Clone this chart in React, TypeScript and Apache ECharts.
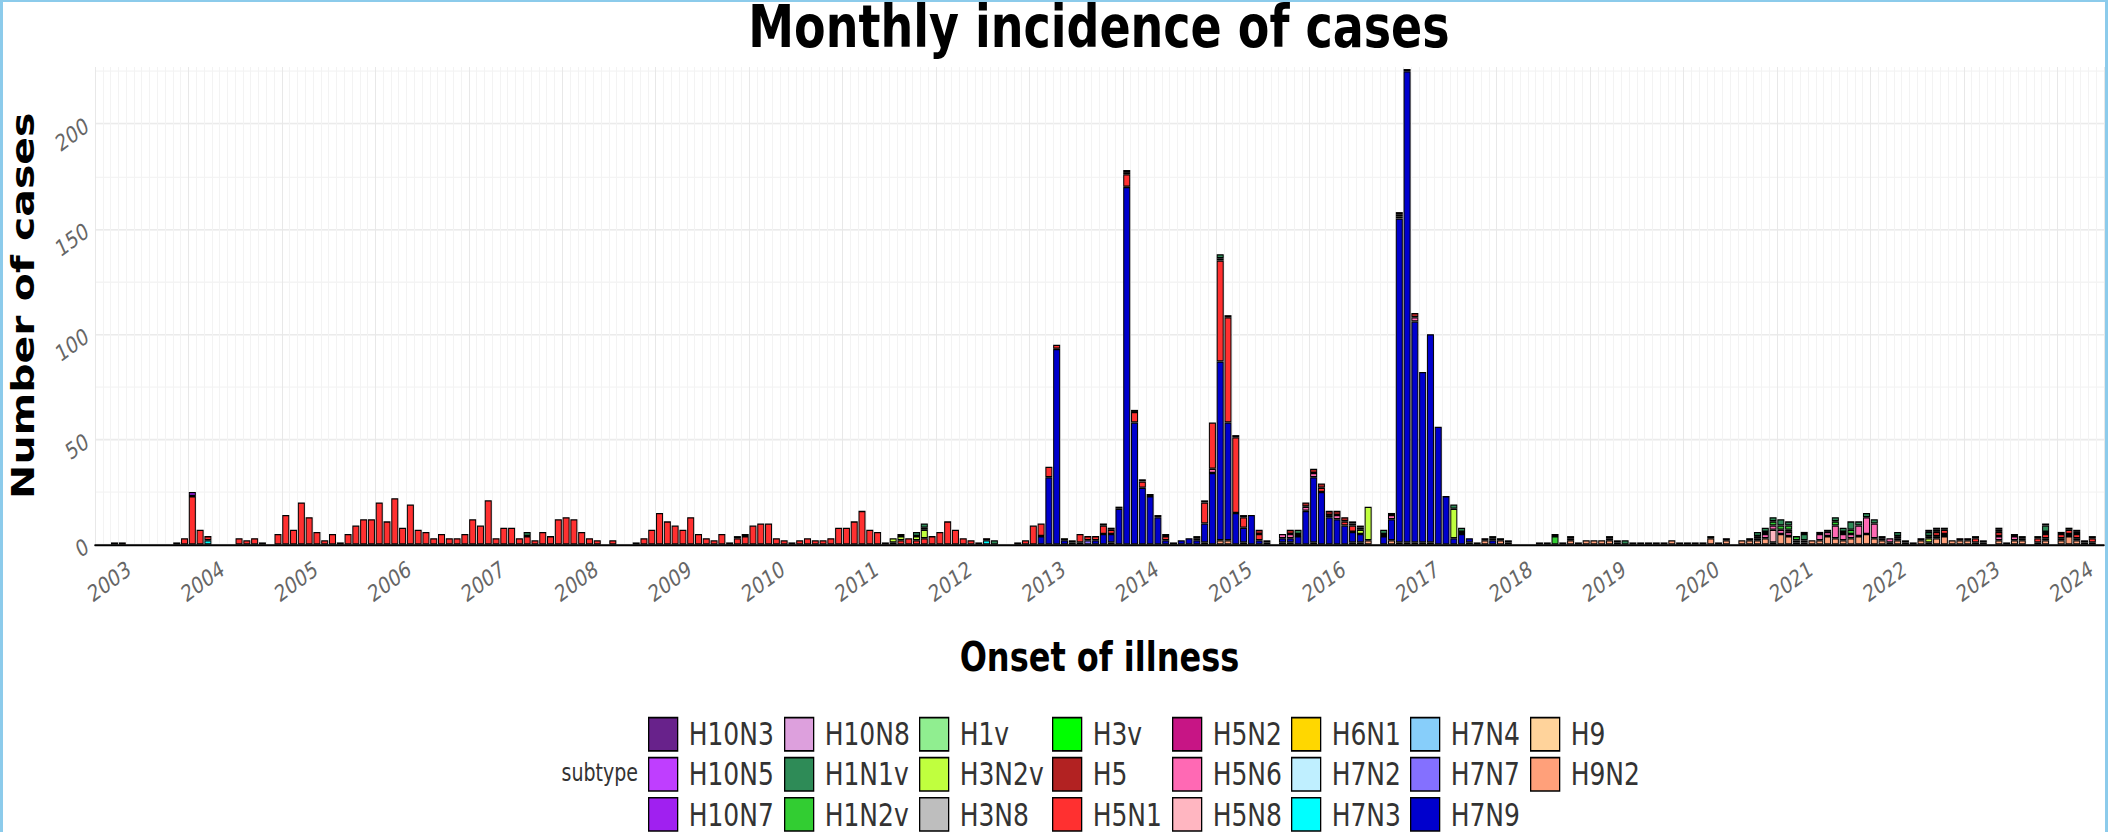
import React, { useEffect, useRef } from "react";
import * as echarts from "echarts";

type Entry = [string, number];

// ---------- categories ----------
const FIRST_YEAR = 2003;
const MONTH_COUNT = 258; // 2003-01 .. 2024-06
const MONTHS: string[] = Array.from({ length: MONTH_COUNT }, (_, i) =>
  `${FIRST_YEAR + Math.floor(i / 12)}-${String((i % 12) + 1).padStart(2, "0")}`
);

const SUBTYPES = [
  "H10N3", "H10N5", "H10N7", "H10N8", "H1N1v", "H1N2v", "H1v", "H3N2v", "H3N8", "H3v", "H5", "H5N1",
  "H5N2", "H5N6", "H5N8", "H6N1", "H7N2", "H7N3", "H7N4", "H7N7", "H7N9", "H9", "H9N2",
];

const COLORS: Record<string, string> = {
  H10N3: "#68228b", H10N5: "#bf3eff", H10N7: "#a020f0", H10N8: "#dda0dd", H1N1v: "#2e8b57",
  H1N2v: "#32cd32", H1v: "#90ee90", H3N2v: "#c0ff3e", H3N8: "#bebebe", H3v: "#00ff00",
  H5: "#b22222", H5N1: "#ff3030", H5N2: "#c71585", H5N6: "#ff69b4", H5N8: "#ffb6c1",
  H6N1: "#ffd700", H7N2: "#bfefff", H7N3: "#00ffff", H7N4: "#87cefa", H7N7: "#8470ff",
  H7N9: "#0000cd", H9: "#ffd39b", H9N2: "#ffa07a",
};

// ---------- monthly case counts (onset month, count) ----------
const H5N1: Entry[] = [
  ["2003-03", 1], ["2003-04", 1], ["2003-12", 3],
  ["2004-01", 23], ["2004-02", 7], ["2004-03", 2], ["2004-07", 3], ["2004-08", 2], ["2004-09", 3], ["2004-10", 1], ["2004-12", 5],
  ["2005-01", 14], ["2005-02", 7], ["2005-03", 20], ["2005-04", 13], ["2005-05", 6], ["2005-06", 2], ["2005-07", 5], ["2005-08", 1], ["2005-09", 5], ["2005-10", 9], ["2005-11", 12], ["2005-12", 12],
  ["2006-01", 20], ["2006-02", 11], ["2006-03", 22], ["2006-04", 8], ["2006-05", 19], ["2006-06", 7], ["2006-07", 6], ["2006-08", 3], ["2006-09", 5], ["2006-10", 3], ["2006-11", 3], ["2006-12", 5],
  ["2007-01", 12], ["2007-02", 9], ["2007-03", 21], ["2007-04", 3], ["2007-05", 8], ["2007-06", 8], ["2007-07", 3], ["2007-08", 4], ["2007-09", 2], ["2007-10", 6], ["2007-11", 4], ["2007-12", 12],
  ["2008-01", 13], ["2008-02", 12], ["2008-03", 6], ["2008-04", 3], ["2008-05", 2], ["2008-07", 2], ["2008-10", 1], ["2008-11", 3], ["2008-12", 7],
  ["2009-01", 15], ["2009-02", 11], ["2009-03", 9], ["2009-04", 7], ["2009-05", 13], ["2009-06", 5], ["2009-07", 3], ["2009-08", 2], ["2009-09", 5], ["2009-10", 1], ["2009-11", 3], ["2009-12", 4],
  ["2010-01", 9], ["2010-02", 10], ["2010-03", 10], ["2010-04", 3], ["2010-05", 2], ["2010-06", 1], ["2010-07", 2], ["2010-08", 3], ["2010-09", 2], ["2010-10", 2], ["2010-11", 3], ["2010-12", 8],
  ["2011-01", 8], ["2011-02", 11], ["2011-03", 16], ["2011-04", 7], ["2011-05", 6], ["2011-06", 1], ["2011-07", 1], ["2011-08", 2], ["2011-09", 3], ["2011-10", 2], ["2011-11", 3], ["2011-12", 4],
  ["2012-01", 6], ["2012-02", 11], ["2012-03", 7], ["2012-04", 3], ["2012-05", 2], ["2012-06", 1], ["2012-07", 1], ["2012-11", 1], ["2012-12", 2],
  ["2013-01", 9], ["2013-02", 6], ["2013-03", 5], ["2013-04", 2], ["2013-06", 1], ["2013-07", 4], ["2013-08", 2], ["2013-09", 2], ["2013-10", 4], ["2013-11", 2],
  ["2014-01", 6], ["2014-02", 5], ["2014-03", 3], ["2014-06", 2], ["2014-10", 1], ["2014-11", 10], ["2014-12", 22],
  ["2015-01", 48], ["2015-02", 50], ["2015-03", 36], ["2015-04", 5], ["2015-06", 3],
  ["2016-02", 2], ["2016-03", 1], ["2016-05", 2], ["2016-06", 3],
  ["2021-02", 1], ["2022-09", 2], ["2022-10", 2],
  ["2023-02", 2], ["2023-05", 2], ["2023-10", 2], ["2023-11", 2],
  ["2024-01", 2], ["2024-02", 2], ["2024-03", 2], ["2024-05", 2],
];

const H7N9: Entry[] = [
  ["2013-02", 4], ["2013-03", 32], ["2013-04", 93], ["2013-05", 2], ["2013-06", 1], ["2013-07", 1], ["2013-09", 2], ["2013-10", 5], ["2013-11", 4], ["2013-12", 17],
  ["2014-01", 170], ["2014-02", 58], ["2014-03", 27], ["2014-04", 23], ["2014-05", 13], ["2014-06", 2], ["2014-07", 1], ["2014-08", 2], ["2014-09", 3], ["2014-10", 2], ["2014-11", 9], ["2014-12", 34],
  ["2015-01", 85], ["2015-02", 56], ["2015-03", 15], ["2015-04", 7], ["2015-05", 14], ["2015-06", 2], ["2015-07", 1], ["2015-09", 2], ["2015-10", 2], ["2015-11", 4], ["2015-12", 16],
  ["2016-01", 31], ["2016-02", 25], ["2016-03", 13], ["2016-04", 12], ["2016-05", 9], ["2016-06", 5], ["2016-07", 4], ["2016-10", 4], ["2016-11", 10], ["2016-12", 154],
  ["2017-01", 224], ["2017-02", 105], ["2017-03", 81], ["2017-04", 99], ["2017-05", 56], ["2017-06", 23], ["2017-07", 3], ["2017-08", 5], ["2017-09", 2], ["2017-12", 2],
  ["2018-02", 1],
];

const H9N2: Entry[] = [
  ["2003-11", 1], ["2013-11", 1], ["2014-11", 1], ["2015-01", 2], ["2015-02", 2], ["2015-04", 1], ["2015-09", 1], ["2015-10", 1],
  ["2016-01", 1], ["2016-06", 1], ["2016-07", 1], ["2016-08", 2], ["2016-11", 2], ["2016-12", 1],
  ["2017-01", 1], ["2017-02", 1], ["2017-03", 1], ["2017-04", 1], ["2017-09", 1], ["2017-10", 1], ["2017-11", 2],
  ["2018-01", 2], ["2018-02", 1], ["2018-06", 1], ["2018-09", 1], ["2018-10", 2], ["2018-12", 2],
  ["2019-01", 2], ["2019-02", 2], ["2019-03", 2], ["2019-04", 1], ["2019-06", 1], ["2019-08", 1], ["2019-09", 1], ["2019-10", 1], ["2019-11", 2], ["2019-12", 1],
  ["2020-01", 1], ["2020-02", 1], ["2020-03", 1], ["2020-04", 3], ["2020-05", 1], ["2020-06", 2], ["2020-08", 2], ["2020-09", 2], ["2020-10", 2], ["2020-11", 3], ["2020-12", 1],
  ["2021-01", 5], ["2021-02", 4], ["2021-03", 1], ["2021-04", 1], ["2021-05", 2], ["2021-06", 2], ["2021-07", 4], ["2021-08", 3], ["2021-09", 2], ["2021-10", 3], ["2021-11", 4], ["2021-12", 5],
  ["2022-01", 3], ["2022-02", 2], ["2022-03", 1], ["2022-04", 2], ["2022-05", 1], ["2022-06", 1], ["2022-07", 2], ["2022-08", 1], ["2022-09", 3], ["2022-10", 4], ["2022-11", 2], ["2022-12", 2],
  ["2023-01", 2], ["2023-02", 1], ["2023-03", 1], ["2023-05", 2], ["2023-07", 2], ["2023-08", 2], ["2023-10", 1], ["2023-11", 2],
  ["2024-01", 2], ["2024-02", 4], ["2024-03", 2], ["2024-04", 1], ["2024-05", 1],
];

const H5N6: Entry[] = [
  ["2014-04", 1], ["2014-12", 2], ["2015-07", 1], ["2015-09", 2], ["2015-10", 2], ["2015-11", 1], ["2015-12", 2], ["2016-01", 2], ["2016-04", 2], ["2016-10", 1], ["2016-11", 2], ["2016-12", 1],
  ["2017-01", 1], ["2017-02", 2], ["2017-11", 1], ["2018-10", 1], ["2019-03", 1], ["2019-04", 1], ["2020-06", 1], ["2020-10", 1], ["2020-11", 2], ["2020-12", 2],
  ["2021-01", 2], ["2021-02", 2], ["2021-03", 1], ["2021-04", 1], ["2021-06", 3], ["2021-07", 2], ["2021-08", 6], ["2021-09", 3], ["2021-10", 2], ["2021-11", 5], ["2021-12", 8],
  ["2022-01", 7], ["2022-02", 1], ["2022-03", 2], ["2022-04", 1], ["2022-07", 1], ["2022-09", 1], ["2022-10", 1], ["2022-12", 1],
  ["2023-01", 1], ["2023-05", 2], ["2023-07", 2], ["2023-08", 1], ["2023-11", 1],
  ["2024-01", 1], ["2024-02", 1], ["2024-03", 1],
];

const H1N1v: Entry[] = [
  ["2007-08", 2], ["2009-11", 1], ["2009-12", 1], ["2011-10", 2], ["2011-11", 2], ["2012-08", 2], ["2014-10", 1], ["2015-01", 2], ["2015-11", 2],
  ["2016-06", 1], ["2016-07", 1], ["2016-10", 2], ["2017-07", 2], ["2017-08", 2], ["2017-12", 1], ["2018-01", 1], ["2018-08", 1], ["2018-10", 1],
  ["2019-03", 1], ["2019-05", 2], ["2020-04", 1], ["2020-09", 1], ["2020-10", 2], ["2020-11", 2], ["2020-12", 2],
  ["2021-01", 3], ["2021-02", 2], ["2021-04", 3], ["2021-06", 1], ["2021-07", 1], ["2021-08", 2], ["2021-09", 2], ["2021-10", 4], ["2021-11", 2], ["2021-12", 2],
  ["2022-01", 2], ["2022-02", 1], ["2022-04", 2], ["2022-08", 2], ["2022-09", 1], ["2022-10", 1],
  ["2023-02", 1], ["2023-05", 1], ["2023-07", 1], ["2023-08", 1], ["2023-11", 3],
  ["2024-02", 1], ["2024-05", 1],
];

const H1N2v: Entry[] = [
  ["2011-08", 1], ["2011-11", 1], ["2016-07", 1], ["2017-08", 1], ["2018-07", 1], ["2018-08", 4], ["2020-10", 1], ["2020-12", 2],
  ["2021-01", 2], ["2021-02", 2], ["2021-03", 2], ["2021-08", 2], ["2021-09", 1], ["2021-10", 2], ["2022-08", 1], ["2023-10", 1], ["2023-11", 1], ["2024-03", 1],
];

const H3N2v: Entry[] = [
  ["2011-07", 2], ["2011-08", 2], ["2011-10", 2], ["2011-11", 4], ["2015-01", 1], ["2016-07", 2], ["2016-08", 16], ["2017-07", 14], ["2022-08", 2],
];

const H5: Entry[] = [
  ["2013-10", 1], ["2013-11", 1], ["2014-01", 1], ["2014-03", 1], ["2014-05", 1], ["2014-06", 1], ["2014-11", 1], ["2015-02", 1], ["2015-03", 1], ["2015-04", 1],
  ["2015-06", 2], ["2015-10", 2], ["2015-12", 2], ["2016-01", 2], ["2016-02", 2], ["2016-03", 2], ["2016-04", 2], ["2016-05", 2], ["2016-06", 1], ["2016-11", 1], ["2016-12", 1], ["2017-02", 2],
];

const H10N3: Entry[] = [["2021-04", 1], ["2022-08", 1], ["2022-09", 1], ["2023-05", 1], ["2023-06", 1], ["2024-03", 1]];
const H10N5: Entry[] = [["2023-11", 1], ["2024-01", 1]];
const H10N7: Entry[] = [["2004-01", 2]];
const H10N8: Entry[] = [["2013-12", 1], ["2014-01", 1], ["2014-02", 1]];
const H1v: Entry[] = [["2019-07", 1]];
const H3N8: Entry[] = [["2022-04", 1], ["2022-05", 1], ["2023-03", 1]];
const H3v: Entry[] = [["2020-11", 1]];
const H5N2: Entry[] = [["2024-04", 1]];
const H5N8: Entry[] = [["2020-12", 6]];
const H6N1: Entry[] = [["2013-05", 1]];
const H7N2: Entry[] = [["2016-12", 1]];
const H7N3: Entry[] = [["2004-03", 2], ["2012-07", 2]];
const H7N4: Entry[] = [["2017-12", 1]];
const H7N7: Entry[] = [["2013-08", 2]];
const H9: Entry[] = [["2018-11", 1]];

const COUNTS: Record<string, Entry[]> = {
  H10N3, H10N5, H10N7, H10N8, H1N1v, H1N2v, H1v, H3N2v, H3N8, H3v, H5, H5N1,
  H5N2, H5N6, H5N8, H6N1, H7N2, H7N3, H7N4, H7N7, H7N9, H9, H9N2,
};

// ---------- axis ticks / legend ----------
const Y_TICKS_MAJOR = 50;
const Y_TICKS_MINOR = 25;
const Y_MAX = 227;

const LEGEND_COLUMNS: string[][] = [
  ["H10N3", "H10N5", "H10N7"], ["H10N8", "H1N1v", "H1N2v"], ["H1v", "H3N2v", "H3N8"], ["H3v", "H5", "H5N1"],
  ["H5N2", "H5N6", "H5N8"], ["H6N1", "H7N2", "H7N3"], ["H7N4", "H7N7", "H7N9"], ["H9", "H9N2"],
];
const LEGEND_LEFT = [648, 784, 919, 1052, 1172, 1291, 1410, 1530];

// ---------- layout ----------
const W = 2108;
const H = 832;
const K = 1.28; // vertical stretch of the whole picture
const BASE_H = H / K; // 650
const FONT = "DejaVu Sans";
const BORDER = "#8ccbeb";

function seriesData(name: string): (number | null)[] {
  const map = new Map<string, number>(COUNTS[name]);
  return MONTHS.map((m) => (map.has(m) ? (map.get(m) as number) : null));
}

function buildOption(): echarts.EChartsOption {
  // ggplot stacks the first level on top: ECharts stacks the first series at the bottom
  const series = SUBTYPES.slice().reverse().map((name) => ({
    type: "bar" as const,
    name,
    stack: "total",
    xAxisIndex: 0,
    yAxisIndex: 1,
    barCategoryGap: "10%",
    itemStyle: { color: COLORS[name], borderColor: "#000", borderWidth: 1 },
    emphasis: { disabled: true },
    data: seriesData(name),
  }));

  const legends = LEGEND_COLUMNS.map((col, i) => ({
    data: col,
    orient: "vertical" as const,
    left: LEGEND_LEFT[i],
    top: 560,
    height: 120,
    padding: 0,
    itemWidth: 29,
    itemHeight: 26,
    itemGap: 4,
    icon: "rect",
    selectedMode: false,
    itemStyle: { borderColor: "#000", borderWidth: 1.3 },
    textStyle: { fontSize: 25, lineHeight: 26, fontFamily: FONT, color: "#333", padding: [0, 0, 0, 6] },
  }));

  return {
    animation: false,
    backgroundColor: "#fff",
    textStyle: { fontFamily: FONT },
    grid: { left: 95, right: 4, top: 52.3, bottom: BASE_H - 425.4, containLabel: false, outerBoundsMode: "none" },
    graphic: [
      {
        type: "text",
        x: 1099,
        y: 21,
        style: {
          text: "Monthly incidence of cases",
          font: `bold 46px "${FONT}"`,
          fill: "#000",
          textAlign: "center",
          textVerticalAlign: "middle",
        },
      },
      {
        type: "text",
        x: 638,
        y: 604,
        style: {
          text: "subtype",
          font: `19px "${FONT}"`,
          fill: "#333",
          textAlign: "right",
          textVerticalAlign: "middle",
        },
      },
    ],
    legend: legends,
    xAxis: [
      {
        type: "category",
        data: MONTHS,
        boundaryGap: true,
        name: "Onset of illness",
        nameLocation: "middle",
        nameGap: 72,
        nameTextStyle: { fontSize: 32, fontWeight: "bold", color: "#000", fontFamily: FONT },
        axisTick: { show: false },
        axisLine: { show: true, lineStyle: { color: "#000", width: 1.5 } },
        axisLabel: {
          interval: (_i: number, v: string) => v.endsWith("-01"),
          formatter: (v: string) => v.slice(0, 4),
          rotate: 30,
          fontSize: 18,
          color: "#666",
          align: "center",
          verticalAlign: "middle",
          padding: [0, 0, 0, 24],
          margin: 35,
        },
        splitLine: { show: true, interval: 0, lineStyle: { color: "#f3f3f3", width: 1 } },
      },
      {
        type: "category",
        data: MONTHS,
        boundaryGap: true,
        position: "bottom",
        axisTick: { show: false },
        axisLine: { show: false },
        axisLabel: { show: false },
        splitLine: {
          show: true,
          interval: (_i: number, v: string) => v.endsWith("-01"),
          lineStyle: { color: "#e8e8e8", width: 1 },
        },
      },
    ],
    yAxis: [
      {
        type: "value",
        position: "left",
        min: 0,
        max: Y_MAX,
        interval: Y_TICKS_MINOR,
        axisLine: { show: false },
        axisTick: { show: false },
        axisLabel: { show: false },
        splitLine: { show: true, showMaxLine: false, lineStyle: { color: "#f4f4f4", width: 1 } },
      },
      {
        type: "value",
        position: "left",
        min: 0,
        max: Y_MAX,
        interval: Y_TICKS_MAJOR,
        name: "Number of cases",
        nameLocation: "middle",
        nameGap: 56,
        nameRotate: 90,
        nameTextStyle: { fontSize: 32, fontWeight: "bold", color: "#000", fontFamily: FONT },
        axisLine: { show: false },
        axisTick: { show: false },
        axisLabel: {
          rotate: 30,
          fontSize: 18,
          color: "#666",
          margin: 8,
          showMaxLabel: false,
          formatter: (v: number) => (v % Y_TICKS_MAJOR === 0 ? String(v) : ""),
        },
        splitLine: { show: true, showMaxLine: false, lineStyle: { color: "#ebebeb", width: 1.3 } },
      },
    ],
    series,
  } as echarts.EChartsOption;
}

export default function App() {
  const ref = useRef<HTMLDivElement>(null);
  useEffect(() => {
    if (!ref.current) return;
    const chart = echarts.init(ref.current, null, { renderer: "svg", width: W, height: BASE_H });
    chart.setOption(buildOption());
    return () => chart.dispose();
  }, []);
  return (
    <div style={{ position: "absolute", left: 0, top: 0, width: W, height: H, overflow: "hidden", background: "#fff" }}>
      <div
        ref={ref}
        style={{ width: W, height: BASE_H, transform: `scaleY(${K})`, transformOrigin: "0 0" }}
      />
      <div style={{ position: "absolute", left: 0, top: 0, width: 3, height: H, background: BORDER }} />
      <div style={{ position: "absolute", right: 0, top: 0, width: 3, height: H, background: BORDER }} />
      <div style={{ position: "absolute", left: 0, top: 0, width: W, height: 2, background: BORDER }} />
    </div>
  );
}
